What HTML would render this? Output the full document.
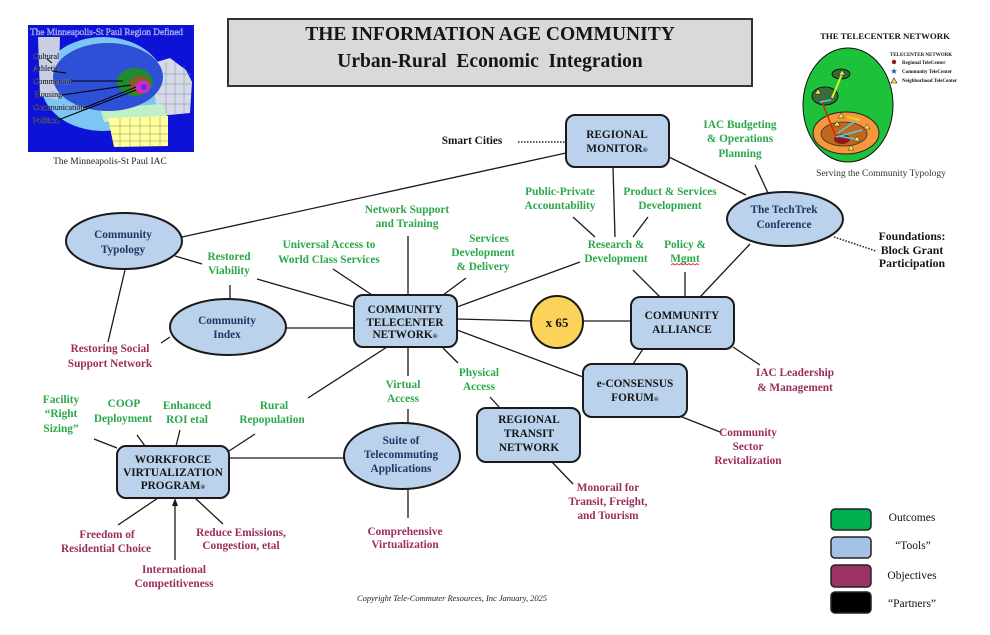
<!DOCTYPE html>
<html><head><meta charset="utf-8"><style>
html,body{margin:0;padding:0;background:#fff;}
svg{display:block;}
text{font-family:"Liberation Serif",serif;font-weight:bold;font-size:11.3px;text-anchor:middle;}
.g{fill:#2BA84A;}.o{fill:#9B2D5E;}.n{fill:#1F3864;}.k{fill:#151515;}
.ln{stroke:#1a1a1a;stroke-width:1.3;fill:none;}
.box{fill:#BAD2EC;stroke:#1a1a1a;stroke-width:2;}
.sm{font-size:6.5px;}
text.ml{font-size:8px;font-weight:normal;text-anchor:start;fill:#0a0a0a;stroke:#b8b8e0;stroke-width:0.35;paint-order:stroke;}
</style></head><body>
<svg width="990" height="635" viewBox="0 0 990 635" xmlns="http://www.w3.org/2000/svg">
<rect width="990" height="635" fill="#fff"/>

<!-- ===== Map top-left ===== -->
<rect x="28" y="25" width="166" height="127" fill="#0c12d6"/>
<ellipse cx="103" cy="84" rx="62" ry="47" fill="#7cc6f4"/>
<path d="M38,37 L60,37 L58,100 L40,96 Z" fill="#c9cfe2"/>
<path d="M150,64 L170,58 L186,70 L192,82 L190,113 L158,116 Z" fill="#d6d9e6"/>
<g stroke="#8088a8" stroke-width="0.5">
<line x1="158" y1="74" x2="191" y2="74"/><line x1="158" y1="84" x2="191" y2="84"/><line x1="158" y1="94" x2="191" y2="94"/><line x1="158" y1="104" x2="191" y2="104"/>
<line x1="166" y1="62" x2="166" y2="115"/><line x1="175" y1="62" x2="175" y2="115"/><line x1="184" y1="66" x2="184" y2="114"/>
</g>
<path d="M100,108 L162,104 L168,118 L104,122 Z" fill="#c0f0c8"/>
<path d="M108,118 L168,116 L168,146 L114,147 Z" fill="#ffff9a"/>
<g stroke="#8a8a70" stroke-width="0.5">
<line x1="110" y1="126" x2="168" y2="126"/><line x1="112" y1="134" x2="168" y2="134"/><line x1="113" y1="141" x2="168" y2="141"/>
<line x1="120" y1="118" x2="120" y2="147"/><line x1="130" y1="118" x2="130" y2="147"/><line x1="140" y1="117" x2="140" y2="147"/><line x1="150" y1="117" x2="150" y2="147"/><line x1="160" y1="117" x2="160" y2="147"/>
</g>
<ellipse cx="108" cy="77" rx="55" ry="34" fill="#2d50d6"/>
<ellipse cx="135" cy="82" rx="18" ry="14" fill="#1e8c2c"/>
<ellipse cx="140" cy="85" rx="11" ry="9" fill="#8b5a2b"/>
<ellipse cx="143" cy="87" rx="7" ry="6" fill="#e020e0"/>
<ellipse cx="144" cy="87" rx="3" ry="3" fill="#5040c0"/>
<text x="30" y="35" textLength="153" style="font-size:9.5px;font-weight:normal;text-anchor:start;fill:#7a7ac0;stroke:#d8d8ff;stroke-width:0.3">The Minneapolis-St Paul Region Defined</text>
<text class="ml" x="33" y="59">Cultural</text>
<text class="ml" x="33" y="71">Athletic</text>
<text class="ml" x="33" y="84">Commercial</text>
<text class="ml" x="35" y="97">Housing</text>
<text class="ml" x="33" y="110">Communications</text>
<text class="ml" x="33" y="123">Political</text>
<g stroke="#000" stroke-width="1">
<line x1="47" y1="59" x2="52" y2="63"/><line x1="52" y1="71" x2="66" y2="73"/><line x1="72" y1="81" x2="123" y2="81"/><line x1="62" y1="95" x2="131" y2="85"/><line x1="84" y1="108" x2="136" y2="87"/><line x1="58" y1="120" x2="136" y2="90"/>
</g>
<text x="110" y="164" style="font-size:9.5px;font-weight:normal;fill:#222">The Minneapolis-St Paul IAC</text>

<!-- ===== Title ===== -->
<rect x="228" y="19" width="524" height="67" fill="#d9d9d9" stroke="#333" stroke-width="2"/>
<text x="490" y="40" class="k" style="font-size:19.5px">THE INFORMATION AGE COMMUNITY</text>
<text x="490" y="67" class="k" style="font-size:19.5px" xml:space="preserve">Urban-Rural  Economic  Integration</text>

<!-- ===== Telecenter network ===== -->
<text x="885" y="39" class="k" style="font-size:8.8px">THE TELECENTER NETWORK</text>
<ellipse cx="848" cy="105" rx="45" ry="57" fill="#1ec23a" stroke="#111" stroke-width="1"/>
<ellipse cx="841" cy="74" rx="9" ry="5" fill="#2f6b2f" stroke="#000" stroke-width="0.8"/>
<ellipse cx="825" cy="96" rx="13" ry="9" fill="#3a6b3a" stroke="#000" stroke-width="0.8"/>
<ellipse cx="846" cy="133" rx="33" ry="21" fill="#f5973a" stroke="#222" stroke-width="1"/>
<ellipse cx="844" cy="134" rx="23" ry="12" fill="#c0681f" stroke="#333" stroke-width="0.8"/>
<ellipse cx="842" cy="139" rx="8" ry="5" fill="#8b1a1a"/>
<line x1="842" y1="74" x2="832" y2="98" stroke="#d8f030" stroke-width="2"/>
<line x1="822" y1="102" x2="836" y2="137" stroke="#dd2200" stroke-width="1.5"/>
<g stroke="#4fd0e0" stroke-width="1.5">
<line x1="820" y1="102" x2="831" y2="100"/><line x1="836" y1="137" x2="862" y2="130"/><line x1="838" y1="133" x2="857" y2="120"/><line x1="838" y1="136" x2="855" y2="139"/>
</g>
<line x1="847" y1="117" x2="860" y2="120" stroke="#f0d020" stroke-width="2"/>
<g fill="#ffe24a" stroke="#222" stroke-width="0.5">
<polygon points="841,113 844,118 838,118"/><polygon points="837,121 840,126 834,126"/><polygon points="867,124 870,129 864,129"/><polygon points="857,136 860,141 854,141"/><polygon points="851,145 854,150 848,150"/><polygon points="818,89 821,94 815,94"/><polygon points="842,70 845,75 839,75"/>
</g>
<text x="890" y="56" class="k" style="font-size:5px;text-anchor:start">TELECENTER NETWORK</text>
<circle cx="894" cy="62" r="2.2" fill="#8b1a1a"/>
<text x="902" y="64" class="k" style="font-size:5px;text-anchor:start">Regional TeleCenter</text>
<text x="894" y="73.5" style="font-size:7px;fill:#3050a0">★</text>
<text x="902" y="73" class="k" style="font-size:5px;text-anchor:start">Community TeleCenter</text>
<polygon points="894,78 897,83 891,83" fill="#ffe24a" stroke="#222" stroke-width="0.6"/>
<text x="902" y="82" class="k" style="font-size:5px;text-anchor:start">Neighborhood TeleCenter</text>
<text x="881" y="176" style="font-size:9.5px;font-weight:normal;fill:#333">Serving the Community Typology</text>

<!-- ===== Connectors ===== -->
<g class="ln">
<line x1="182" y1="237" x2="566" y2="153"/>
<line x1="613" y1="167" x2="615" y2="237"/>
<line x1="573" y1="217" x2="595" y2="237"/>
<line x1="648" y1="217" x2="633" y2="237"/>
<line x1="669" y1="157" x2="746" y2="195"/>
<line x1="755" y1="165" x2="768" y2="193"/>
<line x1="750" y1="244" x2="700" y2="297"/>
<line x1="633" y1="270" x2="660" y2="297"/>
<line x1="685" y1="272" x2="685" y2="297"/>
<line x1="580" y1="262" x2="457" y2="307"/>
<line x1="457" y1="319" x2="531" y2="321"/>
<line x1="583" y1="321" x2="631" y2="321"/>
<line x1="457" y1="330" x2="583" y2="377"/>
<line x1="643" y1="349" x2="633" y2="364"/>
<line x1="733" y1="347" x2="760" y2="365"/>
<line x1="682" y1="417" x2="720" y2="432"/>
<line x1="443" y1="348" x2="458" y2="363"/>
<line x1="490" y1="397" x2="500" y2="408"/>
<line x1="552" y1="462" x2="573" y2="484"/>
<line x1="408" y1="347" x2="408" y2="376"/>
<line x1="408" y1="409" x2="408" y2="423"/>
<line x1="408" y1="489" x2="408" y2="518"/>
<line x1="387" y1="347" x2="308" y2="398"/>
<line x1="255" y1="434" x2="229" y2="451"/>
<line x1="180" y1="430" x2="176" y2="446"/>
<line x1="137" y1="435" x2="145" y2="446"/>
<line x1="94" y1="439" x2="117" y2="448"/>
<line x1="158" y1="498" x2="118" y2="525"/>
<line x1="175" y1="560" x2="175" y2="504"/>
<line x1="195" y1="498" x2="223" y2="524"/>
<line x1="229" y1="458" x2="344" y2="458"/>
<line x1="466" y1="278" x2="443" y2="295"/>
<line x1="333" y1="269" x2="372" y2="295"/>
<line x1="408" y1="236" x2="408" y2="295"/>
<line x1="257" y1="279" x2="354" y2="307"/>
<line x1="175" y1="256" x2="202" y2="264"/>
<line x1="230" y1="285" x2="230" y2="299"/>
<line x1="286" y1="328" x2="354" y2="328"/>
<line x1="125" y1="270" x2="108" y2="342"/>
<line x1="170" y1="337" x2="161" y2="343"/>
</g>
<polygon points="175,498 172,506 178,506" fill="#1a1a1a"/>
<line x1="518" y1="142" x2="565" y2="142" stroke="#222" stroke-width="1.5" stroke-dasharray="1.5,1.5"/>
<line x1="834" y1="237" x2="876" y2="251" stroke="#222" stroke-width="1.5" stroke-dasharray="1.5,1.5"/>

<!-- ===== Nodes ===== -->
<rect x="566" y="115" width="103" height="52" rx="9" class="box"/>
<text x="617" y="138" class="k"><tspan x="617">REGIONAL</tspan><tspan x="617" y="152">MONITOR<tspan class="sm">®</tspan></tspan></text>

<rect x="354" y="295" width="103" height="52" rx="9" class="box"/>
<text x="405" y="313" class="k"><tspan x="405">COMMUNITY</tspan><tspan x="405" y="326">TELECENTER</tspan><tspan x="405" y="338">NETWORK<tspan class="sm">®</tspan></tspan></text>

<rect x="631" y="297" width="103" height="52" rx="9" class="box"/>
<text x="682" y="319" class="k"><tspan x="682">COMMUNITY</tspan><tspan x="682" y="333">ALLIANCE</tspan></text>

<rect x="583" y="364" width="104" height="53" rx="9" class="box"/>
<text x="635" y="387" class="k"><tspan x="635">e-CONSENSUS</tspan><tspan x="635" y="401">FORUM<tspan class="sm">®</tspan></tspan></text>

<rect x="477" y="408" width="103" height="54" rx="9" class="box"/>
<text x="529" y="423" class="k"><tspan x="529">REGIONAL</tspan><tspan x="529" y="437">TRANSIT</tspan><tspan x="529" y="451">NETWORK</tspan></text>

<rect x="117" y="446" width="112" height="52" rx="9" class="box"/>
<text x="173" y="463" class="k"><tspan x="173">WORKFORCE</tspan><tspan x="173" y="476">VIRTUALIZATION</tspan><tspan x="173" y="489">PROGRAM<tspan class="sm">®</tspan></tspan></text>

<ellipse cx="124" cy="241" rx="58" ry="28" class="box"/>
<text x="123" y="238" class="n"><tspan x="123">Community</tspan><tspan x="123" y="253">Typology</tspan></text>

<ellipse cx="228" cy="327" rx="58" ry="28" class="box"/>
<text x="227" y="324" class="n"><tspan x="227">Community</tspan><tspan x="227" y="338">Index</tspan></text>

<ellipse cx="785" cy="219" rx="58" ry="27" class="box"/>
<text x="784" y="213" class="n"><tspan x="784">The TechTrek</tspan><tspan x="784" y="228">Conference</tspan></text>

<ellipse cx="402" cy="456" rx="58" ry="33" class="box"/>
<text x="401" y="444" class="n"><tspan x="401">Suite of</tspan><tspan x="401" y="458">Telecommuting</tspan><tspan x="401" y="472">Applications</tspan></text>

<circle cx="557" cy="322" r="26" fill="#fcd35a" stroke="#1a1a1a" stroke-width="2"/>
<text x="557" y="327" class="k" style="font-size:13px">x 65</text>

<!-- ===== Green outcome labels ===== -->
<g class="g">
<text x="407" y="213"><tspan x="407">Network Support</tspan><tspan x="407" y="227">and Training</tspan></text>
<text x="329" y="248"><tspan x="329">Universal Access to</tspan><tspan x="329" y="263">World Class Services</tspan></text>
<text x="484" y="242"><tspan x="489">Services</tspan><tspan x="483" y="256">Development</tspan><tspan x="483" y="270">&amp; Delivery</tspan></text>
<text x="560" y="195"><tspan x="560">Public-Private</tspan><tspan x="560" y="209">Accountability</tspan></text>
<text x="670" y="195"><tspan x="670">Product &amp; Services</tspan><tspan x="670" y="209">Development</tspan></text>
<text x="740" y="128"><tspan x="740">IAC Budgeting</tspan><tspan x="740" y="142">&amp; Operations</tspan><tspan x="740" y="157">Planning</tspan></text>
<text x="616" y="248"><tspan x="616">Research &amp;</tspan><tspan x="616" y="262">Development</tspan></text>
<text x="685" y="248"><tspan x="685">Policy &amp;</tspan><tspan x="685" y="262">Mgmt</tspan></text>
<text x="229" y="260"><tspan x="229">Restored</tspan><tspan x="229" y="274">Viability</tspan></text>
<text x="479" y="376"><tspan x="479">Physical</tspan><tspan x="479" y="390">Access</tspan></text>
<text x="403" y="388"><tspan x="403">Virtual</tspan><tspan x="403" y="402">Access</tspan></text>
<text x="273" y="409"><tspan x="274">Rural</tspan><tspan x="272" y="423">Repopulation</tspan></text>
<text x="187" y="409"><tspan x="187">Enhanced</tspan><tspan x="187" y="423">ROI etal</tspan></text>
<text x="123" y="407"><tspan x="124">COOP</tspan><tspan x="123" y="422">Deployment</tspan></text>
<text x="61" y="403"><tspan x="61">Facility</tspan><tspan x="61" y="417">“Right</tspan><tspan x="61" y="432">Sizing”</tspan></text>
</g>
<polyline points="671,265 673,263.5 675,265 677,263.5 679,265 681,263.5 683,265 685,263.5 687,265 689,263.5 691,265 693,263.5 695,265 697,263.5 699,265" fill="none" stroke="#e03030" stroke-width="0.8"/>

<!-- ===== Objectives ===== -->
<g class="o">
<text x="110" y="352"><tspan x="110">Restoring Social</tspan><tspan x="110" y="367">Support Network</tspan></text>
<text x="795" y="376"><tspan x="795">IAC Leadership</tspan><tspan x="795" y="391">&amp; Management</tspan></text>
<text x="748" y="436"><tspan x="748">Community</tspan><tspan x="748" y="450">Sector</tspan><tspan x="748" y="464">Revitalization</tspan></text>
<text x="608" y="491"><tspan x="608">Monorail for</tspan><tspan x="608" y="505">Transit, Freight,</tspan><tspan x="608" y="519">and Tourism</tspan></text>
<text x="405" y="535"><tspan x="405">Comprehensive</tspan><tspan x="405" y="548">Virtualization</tspan></text>
<text x="106" y="538"><tspan x="107">Freedom of</tspan><tspan x="106" y="552">Residential Choice</tspan></text>
<text x="174" y="573"><tspan x="174">International</tspan><tspan x="174" y="587">Competitiveness</tspan></text>
<text x="241" y="536"><tspan x="241">Reduce Emissions,</tspan><tspan x="241" y="549">Congestion, etal</tspan></text>
</g>

<!-- ===== Partners ===== -->
<text x="472" y="144" class="k">Smart Cities</text>
<text x="912" y="240" class="k" style="font-size:11.8px"><tspan x="912">Foundations:</tspan><tspan x="912" y="254">Block Grant</tspan><tspan x="912" y="267">Participation</tspan></text>

<!-- ===== Copyright ===== -->
<text x="357" y="601" textLength="190" style="font-size:8.5px;font-weight:normal;font-style:italic;text-anchor:start;fill:#222">Copyright Tele-Commuter Resources, Inc   January, 2025</text>

<!-- ===== Legend ===== -->
<rect x="831" y="509" width="40" height="21" rx="4" fill="#00B050" stroke="#222" stroke-width="1.5"/>
<rect x="831" y="537" width="40" height="21" rx="4" fill="#A4C2E6" stroke="#222" stroke-width="1.5"/>
<rect x="831" y="565" width="40" height="22" rx="4" fill="#993366" stroke="#222" stroke-width="1.5"/>
<rect x="831" y="592" width="40" height="21" rx="4" fill="#000" stroke="#222" stroke-width="1.5"/>
<text x="912" y="521" style="font-weight:normal;font-size:11.5px;fill:#111">Outcomes</text>
<text x="913" y="549" style="font-weight:normal;font-size:11.5px;fill:#111">“Tools”</text>
<text x="912" y="579" style="font-weight:normal;font-size:11.5px;fill:#111">Objectives</text>
<text x="912" y="607" style="font-weight:normal;font-size:11.5px;fill:#111">“Partners”</text>
</svg>
</body></html>
